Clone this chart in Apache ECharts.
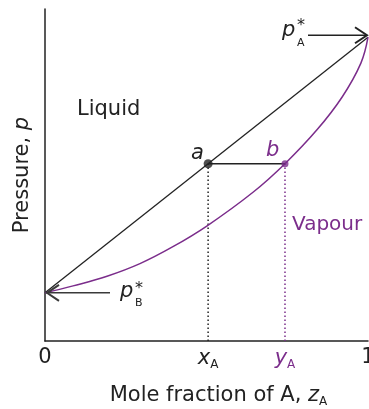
<!DOCTYPE html>
<html>
<head>
<meta charset="utf-8">
<script src="https://cdn.jsdelivr.net/npm/echarts@6/dist/echarts.min.js"></script>
<style>
html,body{margin:0;padding:0;background:#fff;}
#chart{width:369px;height:409px;}
</style>
</head>
<body>
<div id="chart"></div>
<script>
// ---- data ----
const pB = 0.145;            // vapour pressure of pure B (x = 0)
const pA = 0.915;            // vapour pressure of pure A (x = 1)
const xA = 0.505;            // liquid composition at point a
const yA = 0.743;            // vapour composition at point b
const pTie = 0.534;          // pressure of the tie line a-b
const liquidX = [0, 1];
const liquidP = [pB, pA];
const vapourX = [0, 0.087, 0.192, 0.294, 0.396, 0.502, 0.644, 0.743, 0.842, 0.920, 0.978, 1];
const vapourP = [0.145, 0.166, 0.195, 0.233, 0.284, 0.347, 0.448, 0.534, 0.636, 0.735, 0.837, 0.915];
const xTickValues = [0, xA, yA, 1];
const xTickLabels = ['0', 'x|A', 'y|A', '1'];

const PURPLE = '#7b2d8b';
const INK = '#222';
const FONT = 'DejaVu Sans';

const chart = echarts.init(document.getElementById('chart'), null, {renderer: 'canvas'});

function zip(a, b) { return a.map((v, i) => [v, b[i]]); }

const option = {
  animation: false,
  backgroundColor: '#fff',
  textStyle: {fontFamily: FONT},
  grid: {left: 45, right: 1, top: 9, bottom: 68, containLabel: false, outerBoundsMode: 'none'},
  xAxis: {
    type: 'value', min: 0, max: 1,
    axisLine: {show: true, onZero: false, lineStyle: {color: INK, width: 1.5}},
    axisTick: {show: false},
    splitLine: {show: false},
    axisLabel: {
      customValues: xTickValues,
      margin: 6,
      hideOverlap: false,
      formatter: function (v) {
        const i = xTickValues.findIndex(t => Math.abs(t - v) < 1e-6);
        const lab = i >= 0 ? xTickLabels[i] : '';
        if (lab === 'x|A') return '{xi|x}{sa|A}';
        if (lab === 'y|A') return '{yi|y}{sp|A}';
        return '{n|' + lab + '}';
      },
      rich: {
        n: {fontSize: 21, color: INK, fontFamily: FONT},
        xi: {fontSize: 21, color: INK, fontStyle: 'italic', fontFamily: FONT},
        yi: {fontSize: 21, color: PURPLE, fontStyle: 'italic', fontFamily: FONT},
        sa: {fontSize: 12, color: INK, fontFamily: FONT, padding: [12, 0, 0, 0]},
        sp: {fontSize: 12, color: PURPLE, fontFamily: FONT, padding: [12, 0, 0, 0]}
      }
    },
    name: '{n|Mole fraction of A, }{i|z}{s|A}',
    nameLocation: 'middle',
    nameGap: 43,
    nameTextStyle: {
      padding: [0, 0, 0, 24],
      rich: {
        n: {fontSize: 21, color: INK, fontFamily: FONT},
        i: {fontSize: 21, color: INK, fontStyle: 'italic', fontFamily: FONT},
        s: {fontSize: 12, color: INK, fontFamily: FONT, padding: [12, 0, 0, 0]}
      }
    }
  },
  yAxis: {
    type: 'value', min: 0, max: 1,
    axisLine: {show: true, onZero: false, lineStyle: {color: INK, width: 1.5}},
    axisTick: {show: false},
    axisLabel: {show: false},
    splitLine: {show: false},
    name: '{n|Pressure, }{i|p}',
    nameLocation: 'middle',
    nameGap: 12,
    nameTextStyle: {
      rich: {
        n: {fontSize: 21, color: INK, fontFamily: FONT},
        i: {fontSize: 21, color: INK, fontStyle: 'italic', fontFamily: FONT}
      }
    }
  },
  series: [
    {type: 'line', data: zip(liquidX, liquidP), symbol: 'none', lineStyle: {color: INK, width: 1.3}, z: 3},
    {type: 'line', data: zip(vapourX, vapourP), symbol: 'none', smooth: 0.4, lineStyle: {color: PURPLE, width: 1.5}, z: 3},
    {type: 'line', data: [[xA, pTie], [yA, pTie]], symbol: 'none', lineStyle: {color: INK, width: 1.5}, z: 3},
    {type: 'line', data: [[xA, 0], [xA, pTie]], symbol: 'none', lineStyle: {color: INK, width: 1.5, type: [1.5, 2.5]}, z: 2},
    {type: 'line', data: [[yA, 0], [yA, pTie]], symbol: 'none', lineStyle: {color: PURPLE, width: 1.5, type: [1.5, 2.5]}, z: 2},
    {type: 'scatter', data: [[xA, pTie]], symbolSize: 9, itemStyle: {color: INK}, z: 5},
    {type: 'scatter', data: [[yA, pTie]], symbolSize: 7, itemStyle: {color: PURPLE}, z: 5}
  ]
};
chart.setOption(option);

// ---- annotations anchored to data positions ----
const tipA = chart.convertToPixel({gridIndex: 0}, [1, pA]);
const tipB = chart.convertToPixel({gridIndex: 0}, [0, pB]);
const ptA = chart.convertToPixel({gridIndex: 0}, [xA, pTie]);
const ptB = chart.convertToPixel({gridIndex: 0}, [yA, pTie]);

const yArrA = tipA[1] - 2;
const yArrB = tipB[1];

function txt(x, y, text, opts) {
  return {
    type: 'text', x: x, y: y, silent: true, z: 10,
    style: Object.assign({text: text, fill: INK, font: '21px "DejaVu Sans"', align: 'left', verticalAlign: 'middle'}, opts || {})
  };
}

const graphics = [
  // pA arrow
  {type: 'line', silent: true, z: 10, shape: {x1: tipA[0] - 60, y1: yArrA, x2: tipA[0] - 1, y2: yArrA}, style: {stroke: INK, lineWidth: 1.5}},
  {type: 'polyline', silent: true, z: 10, shape: {points: [[tipA[0] - 13, yArrA - 8], [tipA[0] - 1, yArrA], [tipA[0] - 13, yArrA + 8]]}, style: {stroke: INK, lineWidth: 2, fill: null}},
  txt(tipA[0] - 86, yArrA - 5, 'p', {font: 'italic 21px "DejaVu Sans"'}),
  txt(tipA[0] - 71, yArrA - 9, '*', {font: '16px "DejaVu Sans"'}),
  txt(tipA[0] - 71, yArrA + 8, 'A', {font: '11px "DejaVu Sans"'}),
  // pB arrow
  {type: 'line', silent: true, z: 10, shape: {x1: tipB[0] + 1, y1: yArrB, x2: tipB[0] + 65, y2: yArrB}, style: {stroke: '#3a3a3a', lineWidth: 1.5}},
  {type: 'polyline', silent: true, z: 10, shape: {points: [[tipB[0] + 14, yArrB - 8], [tipB[0] + 2, yArrB], [tipB[0] + 14, yArrB + 8]]}, style: {stroke: '#3a3a3a', lineWidth: 2, fill: null}},
  txt(tipB[0] + 75, yArrB - 1, 'p', {font: 'italic 21px "DejaVu Sans"'}),
  txt(tipB[0] + 90, yArrB - 4, '*', {font: '16px "DejaVu Sans"'}),
  txt(tipB[0] + 90, yArrB + 10, 'B', {font: '11px "DejaVu Sans"'}),
  // point labels
  txt(ptA[0] - 17, ptA[1] - 10, 'a', {font: 'italic 21px "DejaVu Sans"'}),
  txt(ptB[0] - 19, ptB[1] - 13, 'b', {font: 'italic 21px "DejaVu Sans"', fill: PURPLE}),
  // region labels
  txt(77, 110, 'Liquid'),
  txt(292, 225, 'Vapour', {fill: PURPLE, font: '20px "DejaVu Sans"'})
];
chart.setOption({graphic: graphics});
</script>
</body>
</html>
